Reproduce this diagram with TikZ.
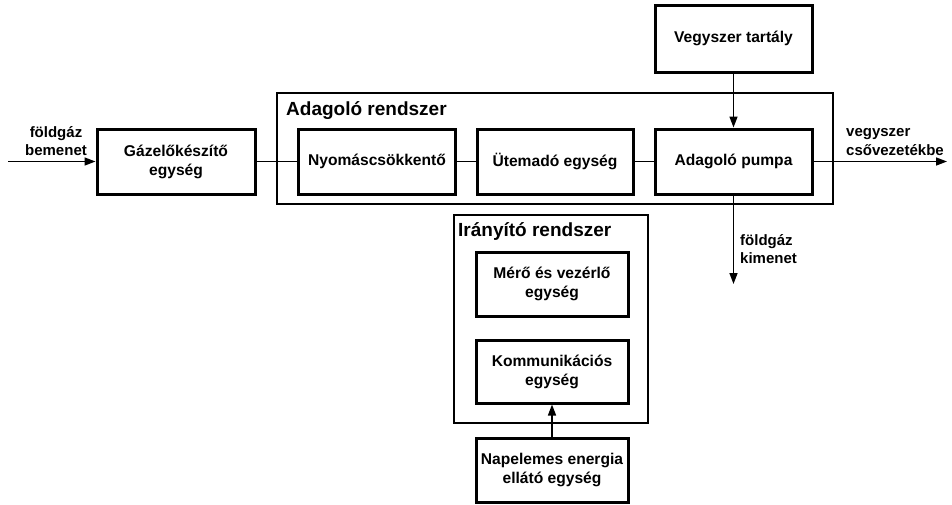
\documentclass[tikz,border=0pt]{standalone}
\usepackage{fontspec}
\setmainfont{Liberation Sans}
\usetikzlibrary{arrows.meta}
\begin{document}
\begin{tikzpicture}[x=1pt,y=-1pt,
  unitbox/.style={draw,line width=3pt,align=center,inner sep=0pt,
    font=\bfseries\fontsize{15.6}{19}\selectfont},
  groupbox/.style={draw,line width=1.5pt,inner sep=0pt},
  grouptitle/.style={anchor=west,inner sep=0pt,font=\bfseries\fontsize{19}{22}\selectfont},
  lbl/.style={align=left,inner sep=0pt,font=\bfseries\fontsize{15}{18.5}\selectfont},
  conn/.style={line width=1.5pt},
  arr/.style={line width=1.5pt,-{Triangle[length=11pt,width=8pt]}}]
\useasboundingbox (0,0) rectangle (952,504);
% group frames
\node[groupbox,minimum width=556pt,minimum height=111pt] (adag) at (555,148.5) {};
\node[groupbox,minimum width=194pt,minimum height=208pt] (iran) at (551,319) {};
\node[grouptitle] (adagT) at (286,111) {Adagoló rendszer};
\node[grouptitle] (iranT) at (458,231) {Irányító rendszer};
% units
\node[unitbox,minimum width=158pt,minimum height=65pt] (gaz) at (176,161.5) {Gázelőkészítő\\egység};
\node[unitbox,minimum width=157pt,minimum height=65pt] (nyom) at (377,161.5) {Nyomáscsökkentő};
\node[unitbox,minimum width=156pt,minimum height=65pt] (utem) at (555,161.5) {Ütemadó egység};
\node[unitbox,minimum width=157pt,minimum height=65pt] (pumpa) at (733.5,161.5) {Adagoló pumpa};
\node[unitbox,minimum width=157pt,minimum height=67pt] (tart) at (733.5,38.5) {Vegyszer tartály};
\node[unitbox,minimum width=152pt,minimum height=64pt] (mero) at (552,284) {Mérő és vezérlő\\egység};
\node[unitbox,minimum width=152pt,minimum height=63pt] (komm) at (552,371.5) {Kommunikációs\\egység};
\node[unitbox,minimum width=152pt,minimum height=64pt] (nap) at (552,470) {Napelemes energia\\ellátó egység};
% free ends
\coordinate (in) at (8,161.5);
\coordinate (out) at (947,161.5);
\coordinate (gasout) at (733.5,284);
% labels
\node[lbl,align=center] (inL) at (56,141) {földgáz\\bemenet};
\node[lbl,anchor=west] (outL) at (846,142) {vegyszer\\csővezetékbe};
\node[lbl,anchor=west] (gasL) at (740,249) {földgáz\\kimenet};
% connectors
\draw[arr] (in) -- (gaz.west);
\draw[conn] (gaz.east) -- (nyom.west);
\draw[conn] (nyom.east) -- (utem.west);
\draw[conn] (utem.east) -- (pumpa.west);
\draw[arr] (tart.south) -- (pumpa.north);
\draw[arr] (pumpa.east) -- (out);
\draw[arr] (pumpa.south) -- (gasout);
\draw[arr] (nap.north) -- (komm.south);
\end{tikzpicture}
\end{document}
